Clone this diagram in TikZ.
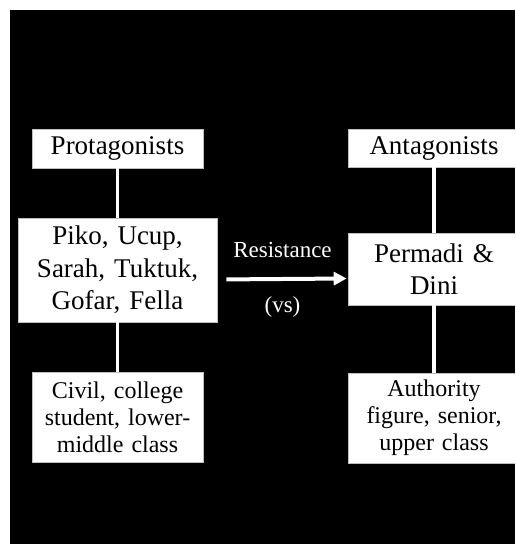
\documentclass[tikz,border=0pt]{standalone}
\usepackage{fontspec}
\setmainfont{Liberation Serif}
\usetikzlibrary{positioning, arrows.meta}

\tikzset{
  box/.style={fill=white, draw=gray!50, line width=0.6pt, inner xsep=0pt, inner ysep=0pt, align=center, text=black},
  titlebox/.style={box, text width=171pt, minimum height=39pt, font=\fontsize{27}{32.5}\selectfont},
  castbox/.style={box, font=\fontsize{27}{32.5}\selectfont},
  rolebox/.style={box, text width=171pt, minimum height=90pt, font=\fontsize{24}{27}\selectfont},
  link/.style={white, line width=3.5pt},
  label/.style={text=white, font=\fontsize{23}{27}\selectfont},
}

\begin{document}
\begin{tikzpicture}[x=1pt, y=1pt]
\clip (0,0) rectangle (515,544);
\fill[white] (0,0) rectangle (515,544);
\fill[black] (10,0) rectangle (515,534);
% protagonists
\node[titlebox] (prot) at (117.5,395.5) {Protagonists};
\node[castbox, text width=199pt, minimum height=104pt] (piko) at (117.5,274) {Piko, Ucup,\\ Sarah, Tuktuk,\\ Gofar, Fella};
\node[rolebox] (civil) at (117.5,127) {Civil, college\\ student, lower-\\ middle class};
% antagonists
\node[titlebox, text width=172pt, minimum height=38pt] (anta) at (434,396) {Antagonists};
\node[castbox, text width=172pt, minimum height=72pt] (perm) at (434,275) {Permadi \&\\ Dini};
\node[rolebox, text width=172pt] (auth) at (434,126) {Authority\\ figure, senior,\\ upper class};
% links
\draw[link] (prot) -- (piko);
\draw[link] (piko) -- (civil);
\draw[link] (anta) -- (perm);
\draw[link] (perm) -- (auth);
% resistance
\draw[white, line width=4pt, -{Triangle[length=13pt, width=13pt]}, shorten <=9pt, shorten >=1pt]
  ([yshift=-9.5pt]piko.east) -- ([yshift=-9.5pt]perm.west)
  node[label, midway, yshift=29pt] (res) {Resistance}
  node[label, midway, yshift=-28pt] (vs) {(vs)};
\end{tikzpicture}
\end{document}
